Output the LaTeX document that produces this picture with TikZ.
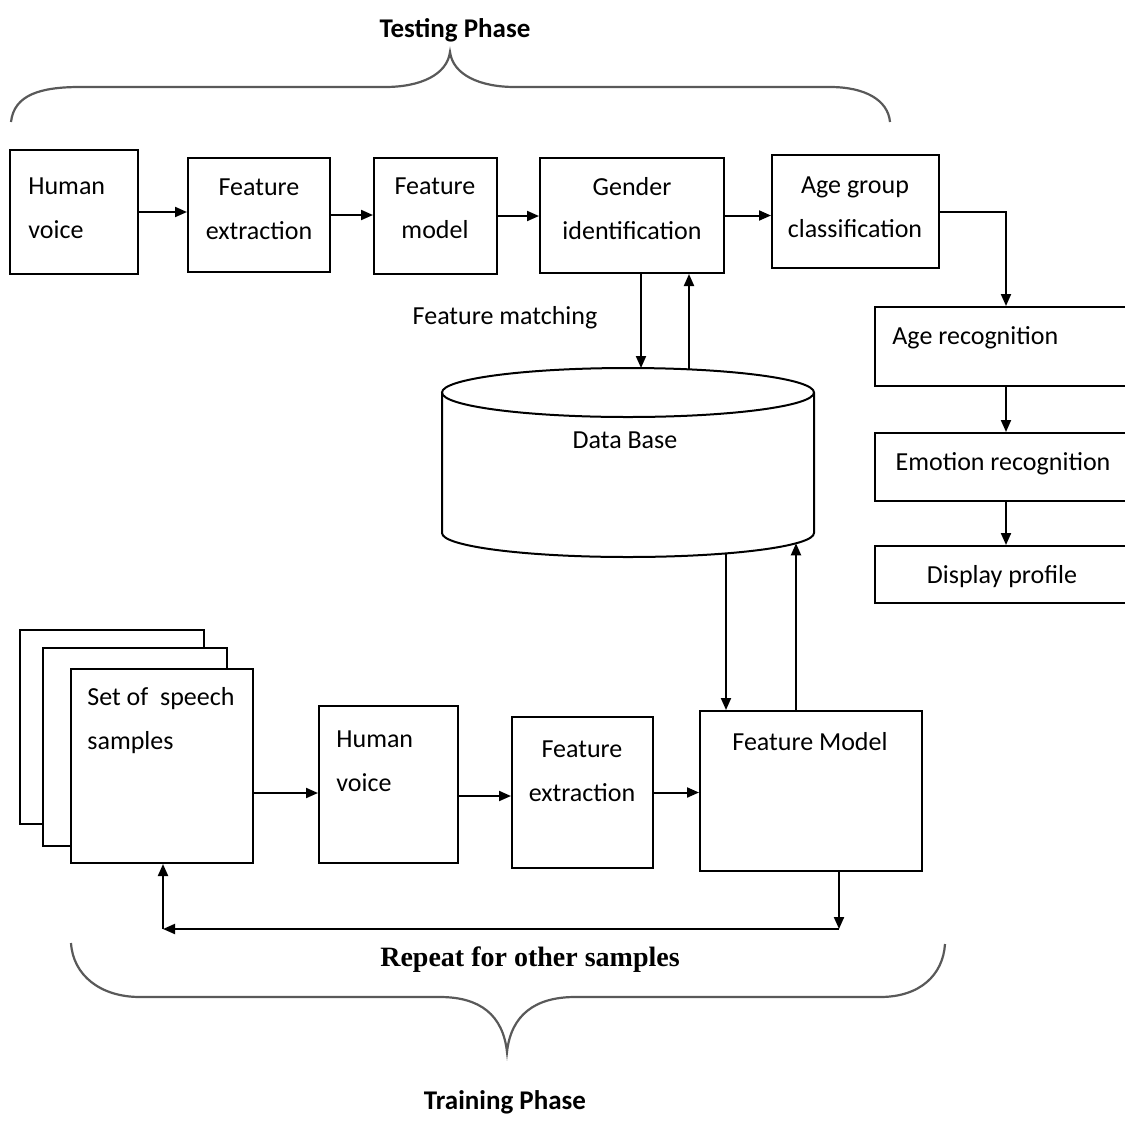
\documentclass[tikz,border=0pt]{standalone}
\usepackage{fontspec}
\setmainfont{Carlito}
\newfontfamily\repfont{Liberation Serif}
\usetikzlibrary{arrows.meta}
\begin{document}
\begin{tikzpicture}[x=0.5pt,y=-0.5pt,
  box/.style={draw, line width=1pt, inner sep=0pt, fill=white},
  lbl/.style={font=\fontsize{13}{22}\selectfont, inner sep=0pt, align=center},
  lbll/.style={font=\fontsize{13}{22}\selectfont, inner sep=0pt, align=left, anchor=west},
  arr/.style={line width=1pt, -{Triangle[length=6pt,width=5pt]}},
  conn/.style={line width=1pt},
  brace/.style={line width=1.1pt, black!65},
  ttl/.style={font=\bfseries\fontsize{13.5}{16}\selectfont, inner sep=0pt}]
\useasboundingbox (0,0) rectangle (1125,1120);

% ---------- Testing phase ----------
\node[ttl] (tph) at (455,30) {Testing Phase};
\draw[brace] (11,122) .. controls (14,95) and (40,87) .. (80,87) -- (385,87)
  .. controls (420,87) and (447,75) .. (450,52)
  .. controls (453,75) and (480,87) .. (515,87) -- (830,87)
  .. controls (865,87) and (888,100) .. (890,122);

\node[box, minimum width=64pt, minimum height=62pt] (hv1) at (74,212) {};
\node[lbll] (hv1t) at (28,208) {Human\\voice};
\node[box, minimum width=71pt, minimum height=57pt] (fe1) at (259,215) {};
\node[lbl] (fe1t) at (259,209) {Feature\\extraction};
\node[box, minimum width=61.5pt, minimum height=58pt] (fm1) at (435.5,216) {};
\node[lbl] (fm1t) at (435,208) {Feature\\model};
\node[box, minimum width=92pt, minimum height=57.5pt] (gi) at (632,215.5) {};
\node[lbl] (git) at (632,209) {Gender\\identification};
\node[box, minimum width=83.5pt, minimum height=56.5pt] (agc) at (855.5,211.5) {};
\node[lbl] (agct) at (855,207) {Age group\\classification};

\node[box, minimum width=131pt, minimum height=39.5pt] (age) at (1006,346.5) {};
\node[lbll] (aget) at (892,338) {Age recognition};
\node[box, minimum width=131pt, minimum height=34pt] (emo) at (1006,467) {};
\node[lbl] (emot) at (1003,464) {Emotion recognition};
\node[box, minimum width=131pt, minimum height=28.5pt] (disp) at (1006,574.5) {};
\node[lbl] (dispt) at (1002,577) {Display profile};

\draw[arr] (hv1.east) -- (hv1.east -| fe1.west);
\draw[arr] (fe1.east) -- (fe1.east -| fm1.west);
\draw[arr] (fm1.east) -- (fm1.east -| gi.west);
\draw[arr] (gi.east) -- (gi.east -| agc.west);
\draw[arr] (agc.east) -| (age.north);
\draw[arr] (age.south) -- (emo.north);
\draw[arr] (emo.south) -- (disp.north);

% ---------- Data base ----------
\draw[line width=1pt] (628,392.5) ellipse [x radius=93pt, y radius=12.25pt];
\draw[line width=1pt] (442,392.5) -- (442,533)
  arc[start angle=180, end angle=360, x radius=93pt, y radius=12pt] -- (814,392.5);
\node[lbl] (db) at (625,440) {Data Base};
\node[lbl] (fmatch) at (505,318) {Feature matching};
\coordinate (dbin) at (641,368);
\coordinate (dbout) at (689,369.4);
\coordinate (dbb1) at (726,553.4);
\coordinate (dbb2) at (796,543.3);
\draw[arr] (gi.south -| dbin) -- (dbin);
\draw[arr] (dbout) -- (gi.south -| dbout);

% ---------- Training phase ----------
\node[box, minimum width=92pt, minimum height=97pt] (ssback) at (112,727) {};
\node[box, minimum width=92pt, minimum height=99pt] (ssmid) at (135,747) {};
\node[box, minimum width=91pt, minimum height=97pt] (ss) at (162,766) {};
\node[lbll] (sst) at (87,721) {Set of\ \ speech\\samples};
\node[box, minimum width=69.5pt, minimum height=78.5pt] (hv2) at (388.5,784.5) {};
\node[lbll] (hv2t) at (336,761) {Human\\voice};
\node[box, minimum width=70.5pt, minimum height=75.5pt] (fe2) at (582.5,792.5) {};
\node[lbl] (fe2t) at (582,771) {Feature\\extraction};
\node[box, minimum width=111pt, minimum height=80pt] (fm2) at (811,791) {};
\node[lbl] (fm2t) at (810,742) {Feature Model};

\coordinate (ya) at (0,793);
\coordinate (yb) at (0,796);
\draw[arr] (ss.east |- ya) -- (hv2.west |- ya);
\draw[arr] (hv2.east |- yb) -- (fe2.west |- yb);
\draw[arr] (fe2.east) -- (fe2.east -| fm2.west);

\draw[arr] (dbb1) -- (dbb1 |- fm2.north);
\draw[arr] (dbb2 |- fm2.north) -- (dbb2);

\coordinate (lp1) at (839,929);
\coordinate (lp2) at (163,929);
\draw[arr] (fm2.south -| lp1) -- (lp1);
\draw[arr] (lp1) -- (lp2);
\draw[arr] (lp2) -- (lp2 |- ss.south);

\node[font=\repfont\bfseries\fontsize{14}{16}\selectfont, inner sep=0pt] (rep) at (530,960) {Repeat for other samples};
\draw[brace] (71,943) .. controls (73,975) and (100,997) .. (140,997) -- (440,997)
  .. controls (480,997) and (503,1015) .. (507,1052)
  .. controls (511,1015) and (535,997) .. (575,997) -- (880,997)
  .. controls (920,997) and (943,975) .. (945,944);
\node[ttl] (trph) at (505,1102) {Training Phase};
\end{tikzpicture}
\end{document}
